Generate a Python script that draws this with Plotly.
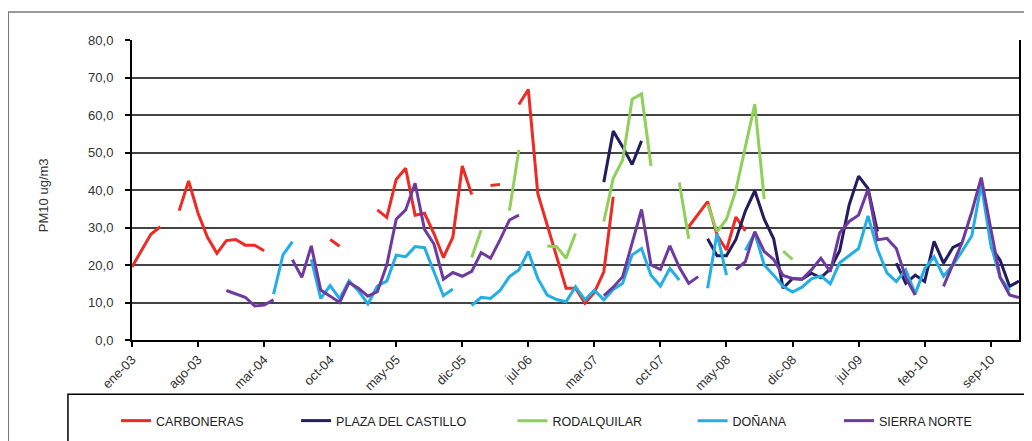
import plotly.graph_objects as go

N = 95
months = list(range(N))
x_tick_pos = list(range(0, 92, 7))
x_tick_labels = ["ene-03", "ago-03", "mar-04", "oct-04", "may-05", "dic-05", "jul-06",
                 "mar-07", "oct-07", "may-08", "dic-08", "jul-09", "feb-10", "sep-10"]
y_tick_vals = [0, 10, 20, 30, 40, 50, 60, 70, 80]
y_tick_labels = ["0,0", "10,0", "20,0", "30,0", "40,0", "50,0", "60,0", "70,0", "80,0"]

def series(d):
    return [d.get(i) for i in range(N)]

carboneras = series({
    0: 19.5, 1: 24.0, 2: 28.2, 3: 30.2, 5: 34.5, 6: 42.4, 7: 33.8, 8: 27.4, 9: 23.1,
    10: 26.5, 11: 26.8, 12: 25.3, 13: 25.3, 14: 23.8, 21: 26.8, 22: 25.0,
    26: 34.7, 27: 32.7, 28: 42.8, 29: 45.8, 30: 33.3, 31: 33.8, 32: 28.4, 33: 22.0,
    34: 27.4, 35: 46.4, 36: 38.8, 38: 41.2, 39: 41.5, 41: 62.8, 42: 66.8, 43: 39.1,
    44: 30.7, 45: 22.2, 46: 13.8, 47: 13.8, 48: 9.8, 49: 12.7, 50: 18.2, 51: 38.2,
    59: 30.2, 60: 33.5, 61: 36.9, 62: 28.0, 63: 24.0, 64: 32.8, 65: 29.1,
})

plaza = series({
    50: 42.1, 51: 55.7, 52: 51.5, 53: 46.8, 54: 53.1,
    61: 27.0, 62: 22.5, 63: 22.5, 64: 26.8, 65: 34.4, 66: 39.8, 67: 32.2, 68: 27.0,
    69: 13.8, 70: 16.4, 71: 16.2, 72: 17.8, 73: 16.6, 74: 19.0, 75: 23.8, 76: 36.0,
    77: 43.7, 78: 40.4, 79: 28.9, 81: 20.5, 82: 15.1, 83: 17.3, 84: 15.6, 85: 26.3,
    86: 20.5, 87: 24.7, 88: 25.9, 91: 24.9, 92: 21.3, 93: 14.3, 94: 15.7,
})

rodalquilar = series({
    36: 22.0, 37: 29.3, 40: 34.5, 41: 50.7, 44: 25.1, 45: 24.9, 46: 21.8, 47: 28.4,
    50: 31.6, 51: 43.1, 52: 48.0, 53: 64.2, 54: 65.6, 55: 46.4, 58: 42.0, 59: 27.0,
    61: 36.2, 62: 28.9, 63: 32.2, 64: 40.0, 65: 51.5, 66: 62.9, 67: 37.6,
    69: 23.7, 70: 21.5,
})

donana = series({
    15: 12.2, 16: 22.7, 17: 26.2, 19: 21.5, 20: 11.1, 21: 14.5, 22: 11.0, 23: 15.8,
    24: 13.1, 25: 9.6, 26: 14.4, 27: 15.7, 28: 22.6, 29: 22.2, 30: 24.9, 31: 24.6,
    32: 18.2, 33: 11.8, 34: 13.6, 36: 9.2, 37: 11.4, 38: 11.1, 39: 13.2, 40: 16.9,
    41: 18.7, 42: 23.6, 43: 16.4, 44: 12.0, 45: 10.8, 46: 10.2, 47: 14.2, 48: 10.7,
    49: 13.3, 50: 10.7, 51: 13.5, 52: 15.1, 53: 22.7, 54: 24.4, 55: 17.3, 56: 14.4,
    57: 19.1, 58: 16.0, 61: 13.8, 62: 28.4, 63: 17.3, 65: 23.9, 66: 28.5, 67: 20.0,
    68: 17.3, 69: 14.3, 70: 12.8, 71: 14.1, 72: 16.3, 73: 17.1, 74: 15.0, 75: 20.6,
    76: 22.5, 77: 24.4, 78: 33.1, 79: 24.2, 80: 17.9, 81: 15.6, 82: 18.7, 83: 12.3,
    84: 19.0, 85: 22.2, 86: 17.0, 87: 20.0, 88: 23.8, 89: 27.8, 90: 41.5, 91: 25.5,
    92: 16.7, 93: 13.2,
})

sierra_norte = series({
    10: 13.2, 11: 12.3, 12: 11.4, 13: 9.1, 14: 9.3, 15: 10.7, 17: 21.4, 18: 16.7,
    19: 25.1, 20: 13.3, 21: 11.7, 22: 10.0, 23: 15.3, 24: 13.8, 25: 11.7, 26: 12.9,
    27: 20.0, 28: 32.2, 29: 34.7, 30: 41.8, 31: 29.5, 32: 25.6, 33: 16.2, 34: 18.0,
    35: 17.0, 36: 18.3, 37: 23.3, 38: 21.8, 39: 26.7, 40: 32.0, 41: 33.3,
    50: 11.8, 51: 14.1, 52: 16.9, 53: 25.8, 54: 34.8, 55: 20.0, 56: 18.8, 57: 25.1,
    58: 19.4, 59: 15.1, 60: 16.9, 64: 18.8, 65: 20.9, 66: 28.9, 67: 23.6, 68: 21.5,
    69: 17.2, 70: 16.4, 71: 16.2, 72: 18.7, 73: 21.8, 74: 18.2, 75: 28.6, 76: 31.6,
    77: 33.3, 78: 40.2, 79: 26.7, 80: 27.1, 81: 24.4, 82: 16.6, 83: 12.0,
    86: 14.3, 87: 20.4, 88: 26.2, 89: 34.2, 90: 43.3, 91: 29.8, 92: 16.7, 93: 12.0,
    94: 11.3,
})

names = ["CARBONERAS", "PLAZA DEL CASTILLO", "RODALQUILAR", "DOÑANA", "SIERRA NORTE"]
data = [carboneras, plaza, rodalquilar, donana, sierra_norte]
colors = ["#EE2A24", "#221D5E", "#8FD05A", "#23AEE5", "#6F3A9F"]
legend_ids = ["legend", "legend2", "legend3", "legend4", "legend5"]
legend_x = [-0.018, 0.185, 0.429, 0.632, 0.797]

fig = go.Figure()
for nm, vals, col, lid in zip(names, data, colors, legend_ids):
    fig.add_trace(go.Scatter(x=months, y=vals, name=nm, mode="lines",
                             line=dict(color=col, width=3), connectgaps=False,
                             legend=lid))

font_main = "Arial, Liberation Sans, sans-serif"
layout_legends = {}
for lid, lx in zip(legend_ids, legend_x):
    layout_legends[lid] = dict(orientation="h", x=lx, xanchor="left", y=-0.27,
                               yanchor="middle", bgcolor="rgba(0,0,0,0)",
                               font=dict(family=font_main, size=12.5, color="#222"),
                               itemwidth=30)

# the page adds an 8px body margin, so margins are reduced by 8px on top/left
fig.update_layout(
    width=1032, height=441,
    margin=dict(l=124, r=21, t=32, b=109, autoexpand=False),
    paper_bgcolor="white", plot_bgcolor="white",
    font=dict(family=font_main, size=13, color="#333"),
    showlegend=True,
    **layout_legends,
    xaxis=dict(range=[0, N - 1], tickmode="array", tickvals=x_tick_pos,
               ticktext=x_tick_labels, tickangle=-45, showgrid=False,
               zeroline=False, showline=True, linecolor="black", linewidth=2,
               ticks="outside", ticklen=5, tickcolor="black", tickwidth=1.5,
               automargin=False, tickfont=dict(size=13, color="#333")),
    yaxis=dict(range=[0, 80], tickmode="array", tickvals=y_tick_vals,
               ticktext=y_tick_labels, showgrid=True, gridcolor="#444",
               gridwidth=1.6, zeroline=False, showline=True, linecolor="black",
               linewidth=2, mirror=True, ticks="outside", ticklen=5,
               tickcolor="black", tickwidth=1.5, automargin=False,
               ticklabelstandoff=9, tickfont=dict(size=13, color="#333")),
    shapes=[
        dict(type="rect", xref="paper", yref="paper", x0=-0.1395, x1=1.2,
             y0=-0.6, y1=1.0933, line=dict(color="#7a7a7a", width=1.5),
             fillcolor="rgba(0,0,0,0)", layer="below"),
        dict(type="rect", xref="paper", yref="paper", x0=-0.0722, x1=1.2,
             y0=-0.6, y1=-0.181, line=dict(color="black", width=1.5),
             fillcolor="rgba(0,0,0,0)"),
    ],
    annotations=[
        dict(text="PM10 ug/m3", xref="paper", yref="paper", x=-0.1003, y=0.483,
             textangle=-90, showarrow=False, font=dict(size=13, color="#333"),
             xanchor="center", yanchor="middle"),
    ],
)

fig.write_html("out.html")
